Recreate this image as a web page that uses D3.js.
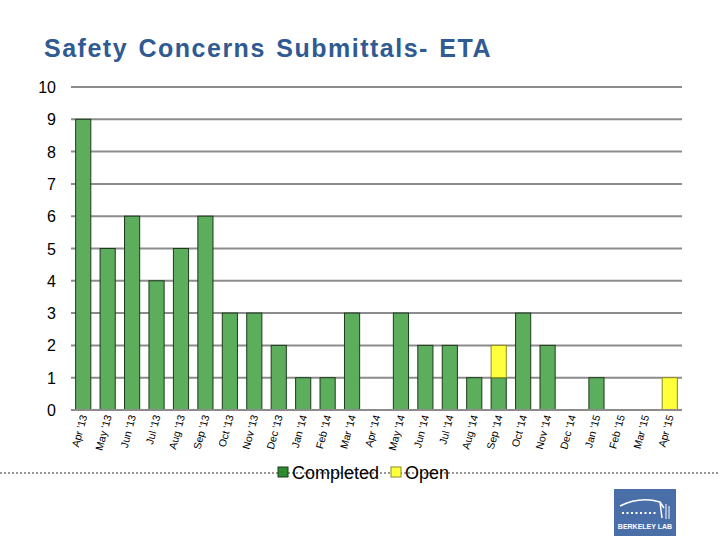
<!DOCTYPE html>
<html>
<head>
<meta charset="utf-8">
<script src="https://cdn.jsdelivr.net/npm/d3@7"></script>
<style>
  body { margin: 0; background: #fff; }
  svg { display: block; font-family: Arial, "Liberation Sans", sans-serif; }
</style>
</head>
<body>
<svg width="720" height="540"></svg>
<script>
const months = ["Apr '13", "May '13", "Jun '13", "Jul '13", "Aug '13", "Sep '13", "Oct '13", "Nov '13", "Dec '13",
  "Jan '14", "Feb '14", "Mar '14", "Apr '14", "May '14", "Jun '14", "Jul '14", "Aug '14", "Sep '14", "Oct '14",
  "Nov '14", "Dec '14", "Jan '15", "Feb '15", "Mar '15", "Apr '15"];
const completed = [9, 5, 6, 4, 5, 6, 3, 3, 2, 1, 1, 3, 0, 3, 2, 2, 1, 1, 3, 2, 0, 1, 0, 0, 0];
const open = [0, 0, 0, 0, 0, 0, 0, 0, 0, 0, 0, 0, 0, 0, 0, 0, 0, 1, 0, 0, 0, 0, 0, 0, 1];
const yTicks = [0, 1, 2, 3, 4, 5, 6, 7, 8, 9, 10];

let svg = d3.select("svg");

svg.append("text")
    .attr("x", 44).attr("y", 57)
    .attr("font-size", 25).attr("font-weight", "bold")
    .attr("letter-spacing", 1.5)
    .attr("word-spacing", 2)
    .attr("fill", "#2f5a92")
    .text("Safety Concerns Submittals- ETA");

const x = d3.scaleBand().domain(months).range([71, 682]).paddingInner(0.38).paddingOuter(0.19);
const y = d3.scaleLinear().domain([0, 10]).range([410, 87]);

// grid lines
svg.append("g").selectAll("line")
    .data(yTicks)
    .enter().append("line")
    .attr("x1", 71).attr("x2", 682)
    .attr("y1", d => y(d)).attr("y2", d => y(d))
    .attr("stroke", "#8c8c8c")
    .attr("stroke-width", 2);

svg.append("g").selectAll("text")
    .data(yTicks)
    .enter().append("text")
    .attr("x", 56).attr("y", d => y(d) + 6)
    .attr("text-anchor", "end")
    .attr("font-size", 16)
    .attr("fill", "#000")
    .text(d => d);

const data = months.map((m, i) => ({ m: m, c: completed[i], o: open[i] }));

svg.append("g").selectAll("rect")
    .data(data.filter(d => d.c > 0))
    .enter().append("rect")
    .attr("x", d => x(d.m)).attr("width", x.bandwidth())
    .attr("y", d => y(d.c)).attr("height", d => y(0) - y(d.c))
    .attr("fill", "#5cad5c")
    .attr("stroke", "#1d3a1d")
    .attr("stroke-width", 1);

svg.append("g").selectAll("rect")
    .data(data.filter(d => d.o > 0))
    .enter().append("rect")
    .attr("x", d => x(d.m)).attr("width", x.bandwidth())
    .attr("y", d => y(d.c + d.o)).attr("height", d => y(d.c) - y(d.c + d.o))
    .attr("fill", "#ffff3c")
    .attr("stroke", "#8a8a20")
    .attr("stroke-width", 1);

// axis line on top
svg.append("line")
    .attr("x1", 71).attr("x2", 682)
    .attr("y1", y(0)).attr("y2", y(0))
    .attr("stroke", "#8c8c8c").attr("stroke-width", 2);

svg.append("g").selectAll("text")
    .data(months)
    .enter().append("text")
    .attr("transform", d => `translate(${x(d) + x.bandwidth() / 2 + 4},${416}) rotate(-75)`)
    .attr("text-anchor", "end")
    .attr("font-size", 10.5)
    .attr("fill", "#000")
    .text(d => d);

// dotted separator
svg.append("line")
    .attr("x1", 0).attr("x2", 720)
    .attr("y1", 473).attr("y2", 473)
    .attr("stroke", "#333").attr("stroke-width", 1)
    .attr("stroke-dasharray", "2,2");

const legend = [
  { name: "Completed", fill: "#2e8b2e", stroke: "#1d3a1d", x: 278 },
  { name: "Open", fill: "#ffff3c", stroke: "#8a8a20", x: 391 }
];
let lg = svg.append("g").selectAll("g")
    .data(legend)
    .enter().append("g");
lg.append("rect")
    .attr("x", d => d.x).attr("y", 467)
    .attr("width", 10).attr("height", 10)
    .attr("fill", d => d.fill).attr("stroke", d => d.stroke);
lg.append("text")
    .attr("x", d => d.x + 14).attr("y", 479)
    .attr("font-size", 18)
    .text(d => d.name);

// logo
let logo = svg.append("g");
logo.append("rect").attr("x", 614).attr("y", 489).attr("width", 62).attr("height", 47).attr("fill", "#4a6fa8");
logo.append("path")
    .attr("d", "M620,506 Q640,496 660,502 L662,518 M660,502 L664,508")
    .attr("fill", "none").attr("stroke", "#fff").attr("stroke-width", 1.5);
logo.append("line")
    .attr("x1", 622).attr("x2", 656).attr("y1", 513).attr("y2", 513)
    .attr("stroke", "#fff").attr("stroke-width", 2).attr("stroke-dasharray", "2,2.5");
logo.append("line").attr("x1", 666).attr("x2", 666).attr("y1", 504).attr("y2", 519).attr("stroke", "#fff").attr("stroke-width", 1);
logo.append("line").attr("x1", 669).attr("x2", 669).attr("y1", 506).attr("y2", 519).attr("stroke", "#fff").attr("stroke-width", 1);
logo.append("text")
    .attr("x", 645).attr("y", 529)
    .attr("text-anchor", "middle")
    .attr("font-size", 7).attr("font-weight", "bold")
    .attr("fill", "#fff")
    .text("BERKELEY LAB");
</script>
</body>
</html>
